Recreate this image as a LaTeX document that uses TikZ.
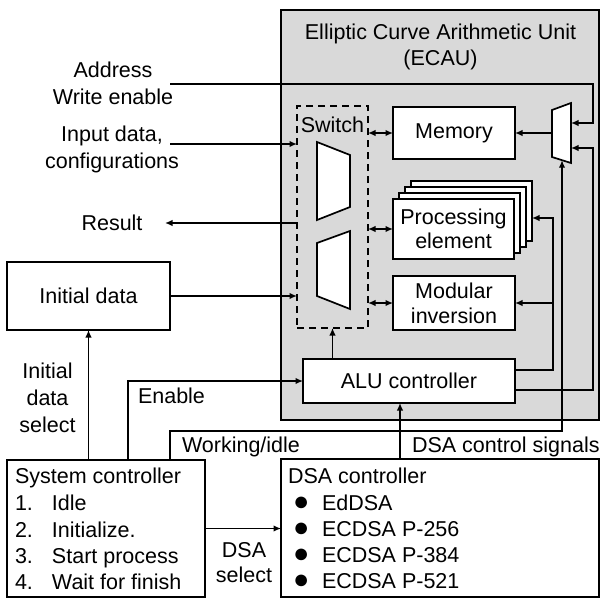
\documentclass[tikz,border=0pt]{standalone}
\usepackage{fontspec}
\setmainfont{Liberation Sans}
\usetikzlibrary{arrows.meta,calc}
\definecolor{ecaugray}{RGB}{217,217,217}

\begin{document}
\begin{tikzpicture}[x=1pt,y=-1pt,
  font=\fontsize{21.5}{26}\selectfont,
  box/.style={draw, line width=1.7pt, fill=white, inner sep=0pt, outer sep=0pt, align=center},
  shape line/.style={draw, line width=1.7pt, fill=white, line join=miter},
  conn/.style={line width=1.4pt, -{Latex[length=7.5pt,width=6.5pt]}},
  biconn/.style={line width=1.4pt, {Latex[length=7.5pt,width=6.5pt]}-{Latex[length=7.5pt,width=6.5pt]}},
  lbl/.style={inner sep=0pt, outer sep=0pt, anchor=base},
  lbll/.style={inner sep=0pt, outer sep=0pt, anchor=base west}]
\useasboundingbox (0,0) rectangle (602,598);

% Arithmetic unit enclosure
\node[box, fill=ecaugray, minimum width=318pt, minimum height=410pt] (ecau) at (440,215) {};
\node[lbl] (ttl1) at (440.5,39) {Elliptic Curve Arithmetic Unit};
\node[lbl] (ttl2) at (440.5,65) {(ECAU)};

% Switch with its two multiplexers
\node[draw, dashed, dash pattern=on 7pt off 5pt, line width=1.7pt, inner sep=0pt, outer sep=0pt,
      minimum width=71pt, minimum height=222pt] (sw) at (332.5,217) {};
\node[lbl] (swl) at (332.5,132) {Switch};
\path[shape line] (317,142) -- (350,155) -- (350,207) -- (317,220) -- cycle;
\path[shape line] (317,243) -- (350,231) -- (350,309) -- (317,296) -- cycle;

% Internal blocks
\node[box, minimum width=122pt, minimum height=52pt] (mem) at (454,133) {Memory};
\foreach \o in {18,12,6}
  \path[shape line] (393+\o,199-\o) rectangle (514+\o,259-\o);
\node[box, minimum width=121pt, minimum height=60pt] (pe) at (453.5,229) {};
\node[lbl] (pe1) at (453.5,224) {Processing};
\node[lbl] (pe2) at (453.5,248) {element};
\node[box, minimum width=122pt, minimum height=54pt] (mod) at (454,303) {};
\node[lbl] (mod1) at (454,298) {Modular};
\node[lbl] (mod2) at (454,323) {inversion};
\node[box, minimum width=212pt, minimum height=44pt] (alu) at (409,381) {ALU controller};

% Memory port multiplexer
\path[shape line] (552,110) -- (571,103) -- (571,163) -- (552,157) -- cycle;
\coordinate (muxout) at (552,133);
\coordinate (muxa) at (571,123);
\coordinate (muxs) at (571,148);
\coordinate (muxb) at (562,160.2);
\coordinate (pein) at (532,218);

% Outer blocks
\node[box, minimum width=163pt, minimum height=68pt] (init) at (88.5,296) {Initial data};
\node[box, minimum width=198pt, minimum height=137pt] (sys) at (106,528.5) {};
\node[box, minimum width=318pt, minimum height=138pt] (dsa) at (440,528) {};

% System controller states
\node[lbll] (sc0) at (15,483) {System controller};
\node[lbll] (sc1) at (15,510) {\makebox[37pt][l]{1.}Idle};
\node[lbll] (sc2) at (15,537) {\makebox[37pt][l]{2.}Initialize.};
\node[lbll] (sc3) at (15,563) {\makebox[37pt][l]{3.}Start process};
\node[lbll] (sc4) at (15,589) {\makebox[37pt][l]{4.}Wait for finish};

% DSA controller algorithms
\newcommand{\blt}{\makebox[29pt][l]{{\fontsize{27}{27}\selectfont ●}}}
\node[lbll] (dc0) at (288,483) {DSA controller};
\node[lbll] (dc1) at (293,510) {\blt EdDSA};
\node[lbll] (dc2) at (293,536) {\blt ECDSA P-256};
\node[lbll] (dc3) at (293,562) {\blt ECDSA P-384};
\node[lbll] (dc4) at (293,588) {\blt ECDSA P-521};

% External interface labels
\node[lbl] (ad1) at (113,77) {Address};
\node[lbl] (ad2) at (113,104) {Write enable};
\node[lbl] (in1) at (112,141.5) {Input data,};
\node[lbl] (in2) at (112,168) {configurations};
\node[lbl] (rs) at (112,230) {Result};
\node[lbl] (is1) at (47.5,378) {Initial};
\node[lbl] (is2) at (47.5,405) {data};
\node[lbl] (is3) at (47.5,432) {select};
\node[lbll] (en) at (138,403) {Enable};
\node[lbll] (wi) at (182,452) {Working/idle};
\node[lbll] (cs) at (412,452) {DSA control signals};
\node[lbl] (ds1) at (244,557) {DSA};
\node[lbl] (ds2) at (244,582) {select};

\coordinate (addr) at (170,84);
\coordinate (inpt) at (170,144);
\coordinate (res) at (165,223);

% Connectors
\draw[conn] (addr) -- (593,84) -- (593,123) -- (muxa);
\draw[conn] (inpt) -- (inpt -| sw.west);
\draw[conn] (res -| sw.west) -- (res);
\draw[conn] (init.east) -- (init.east -| sw.west);
\draw[biconn] (mem.west -| sw.east) -- (mem.west);
\draw[biconn] (pe.west -| sw.east) -- (pe.west);
\draw[biconn] (mod.west -| sw.east) -- (mod.west);
\draw[conn] (muxout) -- (mem.east);
\draw[conn] ([yshift=11pt]alu.east) -- (553,370) -- (553,218) -- (pein);
\draw[conn] (553,303) -- (mod.east);
\draw[conn] ([yshift=-9pt]alu.east) -- (593,390) -- (593,148) -- (muxs);
\draw[conn] (sw.south |- alu.north) -- (sw.south);
\draw[conn] ([xshift=-9pt]alu.south |- dsa.north) -- ([xshift=-9pt]alu.south);
\draw[conn] ([xshift=64pt]sys.north) -- (170,431) -- (562,431) -- (muxb);
\draw[conn] ([xshift=22pt]sys.north) -- (128,381) -- (alu.west);
\draw[conn] (sys.north -| init.south) -- (init.south);
\draw[conn] (sys.east) -- (sys.east -| dsa.west);
\end{tikzpicture}
\end{document}
